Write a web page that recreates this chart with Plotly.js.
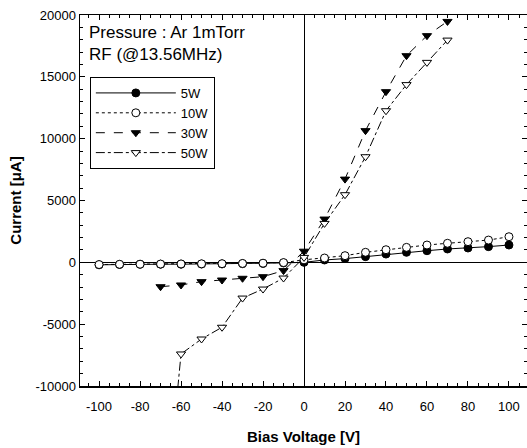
<!DOCTYPE html>
<html>
<head>
<meta charset="utf-8">
<script src="https://cdn.plot.ly/plotly-3.0.1.min.js"></script>
<style>html,body{margin:0;padding:0;background:#fff;}#chart{width:527px;height:448px;}</style>
</head>
<body>
<div id="chart"></div>
<script>
const seriesNames = ["5W", "10W", "30W", "50W"];
const xLow = [-100,-90,-80,-70,-60,-50,-40,-30,-20,-10,0,10,20,30,40,50,60,70,80,90,100];
const y5W = [-200,-170,-160,-150,-150,-140,-130,-110,-90,-50,0,190,300,460,670,810,940,1080,1160,1270,1400];
const y10W = [-180,-160,-150,-140,-130,-120,-110,-90,-70,-20,200,350,540,810,1020,1210,1400,1540,1670,1800,2070];
const xHigh = [-70,-60,-50,-40,-30,-20,-10,0,10,20,30,40,50,60,70];
const y30W = [-1970,-1830,-1560,-1430,-1290,-1160,-670,900,3500,6730,10650,13800,16710,18330,19480];
const y50W = [-24700,-7410,-6200,-5250,-2890,-2160,-1270,400,3150,5470,8540,12260,14370,16170,17970];
const xTickVals = [-100,-80,-60,-40,-20,0,20,40,60,80,100];
const xTickText = ["-100","-80","-60","-40","-20","0","20","40","60","80","100"];
const yTickVals = [-10000,-5000,0,5000,10000,15000,20000];
const yTickText = ["-10000","-5000","0","5000","10000","15000","20000"];
const noteLines = ["Pressure : Ar 1mTorr", "RF (@13.56MHz)"];

const F = "Arial, 'Liberation Sans', sans-serif";
function tr(name, x, y, dash, symbol, fill) {
  return {
    type: "scatter", mode: "lines+markers", name: name, x: x, y: y,
    line: {color: "#000", width: 1, dash: dash},
    marker: {symbol: symbol, size: 8, color: fill, line: {color: "#000", width: 1}}
  };
}
const data = [
  tr(seriesNames[0], xLow, y5W, "solid", "circle", "#000"),
  tr(seriesNames[1], xLow, y10W, "dot", "circle", "#fff"),
  tr(seriesNames[2], xHigh, y30W, "dash", "triangle-down", "#000"),
  tr(seriesNames[3], xHigh, y50W, "dashdot", "triangle-down", "#fff")
];
const layout = {
  width: 527, height: 448,
  margin: {l: 80, r: 0, t: 15, b: 62},
  paper_bgcolor: "#fff", plot_bgcolor: "#fff",
  font: {family: F, color: "#000", size: 13},
  showlegend: true,
  legend: {x: 0.022, y: 0.833, xanchor: "left", yanchor: "top",
    bgcolor: "#fff", bordercolor: "#000", borderwidth: 1,
    itemwidth: 80,
    font: {family: F, size: 13, color: "#000"}, traceorder: "normal"},
  xaxis: {
    range: [-109.3, 108.8], tickvals: xTickVals, ticktext: xTickText,
    showgrid: false, zeroline: true, zerolinecolor: "#000", zerolinewidth: 1,
    showline: true, linecolor: "#000", linewidth: 1.5, mirror: "ticks",
    ticks: "inside", ticklen: 5, tickcolor: "#000", ticklabelstandoff: 8,
    minor: {dtick: 5, ticks: "inside", ticklen: 3, tickcolor: "#000", showgrid: false},
    tickfont: {family: F, size: 13},
    title: {text: "<b>Bias Voltage [V]</b>", font: {family: F, size: 15}, standoff: 18}
  },
  yaxis: {
    range: [-10000, 20000], tickvals: yTickVals, ticktext: yTickText,
    showgrid: false, zeroline: true, zerolinecolor: "#000", zerolinewidth: 1,
    showline: true, linecolor: "#000", linewidth: 1.5, mirror: "ticks",
    ticks: "inside", ticklen: 5, tickcolor: "#000",
    minor: {dtick: 1000, ticks: "inside", ticklen: 3, tickcolor: "#000", showgrid: false},
    tickfont: {family: F, size: 13},
    title: {text: "<b>Current [μA]</b>", font: {family: F, size: 15}, standoff: 10}
  },
  annotations: [
    {xref: "paper", yref: "paper", x: 0.015, y: 0.985, xanchor: "left", yanchor: "top",
     text: noteLines.join("<br>"), align: "left", showarrow: false,
     font: {family: F, size: 17, color: "#000"}}
  ]
};
Plotly.newPlot("chart", data, layout, {displayModeBar: false, staticPlot: true});
</script>
</body>
</html>
